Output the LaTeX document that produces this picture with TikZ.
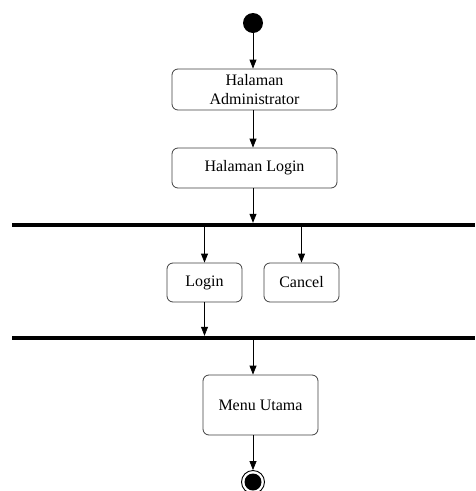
\documentclass[tikz,border=0pt]{standalone}
\usepackage{fontspec}
\setmainfont{Liberation Serif}
\usetikzlibrary{arrows.meta}
\begin{document}
\begin{tikzpicture}[x=1pt,y=-1pt,
  act/.style={draw=black!75, line width=0.8pt, rounded corners=6pt, fill=white,
    align=center, inner sep=0pt, font=\fontsize{16}{19.5}\selectfont},
  bar/.style={fill=black, draw=none, inner sep=0pt, minimum height=4pt, minimum width=463pt},
  flow/.style={-{Triangle[length=9pt,width=7pt]}, line width=0.8pt}]
\useasboundingbox (0,0) rectangle (475,491);

% initial and final states
\node[circle, fill=black, minimum size=20pt, inner sep=0pt] (start) at (253,23) {};
\node[circle, draw=black, line width=0.9pt, minimum size=23pt, inner sep=0pt] (end) at (253,482) {};
\fill[black] (end.center) circle (8.5pt);

% actions
\node[act, minimum width=165pt, minimum height=41pt] (admin) at (254.5,89.5) {Halaman\\Administrator};
\node[act, minimum width=165pt, minimum height=40pt] (loginpage) at (254.5,168) {Halaman Login};
\node[act, minimum width=75pt, minimum height=39pt] (login) at (204.5,282.5) {Login};
\node[act, minimum width=75pt, minimum height=39pt] (cancel) at (301.5,282.5) {Cancel};
\node[act, minimum width=115pt, minimum height=60pt] (menu) at (260.5,405) {Menu Utama};

% fork / join bars
\node[bar, anchor=west] (fork) at (12,225) {};
\node[bar, anchor=west] (join) at (12,338) {};

% flows
\draw[flow] (start) -- (start |- admin.north);
\draw[flow] (start |- admin.south) -- (start |- loginpage.north);
\draw[flow] (start |- loginpage.south) -- (start |- fork.north);
\draw[flow] (login.north |- fork.south) -- (login.north);
\draw[flow] (cancel.north |- fork.south) -- (cancel.north);
\draw[flow] (login.south) -- (login.south |- join.north);
\draw[flow] (start |- join.south) -- (start |- menu.north);
\draw[flow] (start |- menu.south) -- (end.north);
\end{tikzpicture}
\end{document}
